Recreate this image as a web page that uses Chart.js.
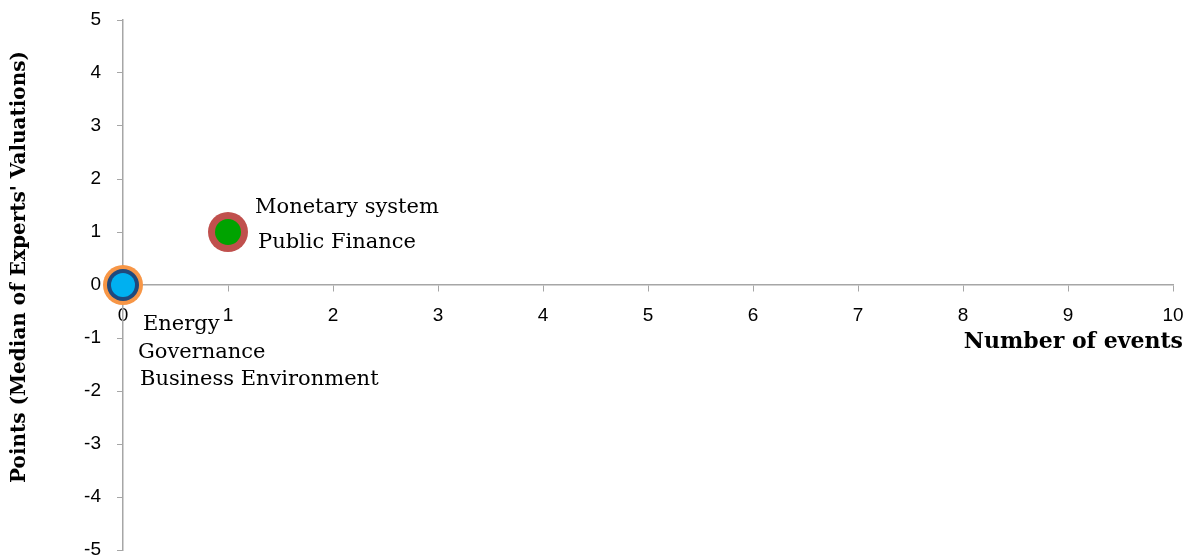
<!DOCTYPE html>
<html>
<head>
<meta charset="utf-8">
<script src="https://cdn.jsdelivr.net/npm/chart.js@4/dist/chart.umd.min.js"></script>
<style>
  html, body { margin: 0; padding: 0; background: #fff; overflow: hidden; }
  /* a bit bigger than the window: Chart.js keeps a margin the size of the
     largest marker, the extra pixels fall outside the photo */
  #wrap { width: 1193px; height: 570px; }
</style>
</head>
<body>
<div id="wrap"><canvas id="chart"></canvas></div>
<script>
// ================= DATA =================
const seriesNames = ["Energy", "Governance", "Business Environment", "Monetary system", "Public Finance"];
const eventCounts = [0, 0, 0, 1, 1];
const medianPoints = [0, 0, 0, 1, 1];
const xTickValues = [0, 1, 2, 3, 4, 5, 6, 7, 8, 9, 10];
const yTickValues = [-5, -4, -3, -2, -1, 0, 1, 2, 3, 4, 5];

const xTitle = "Number of events";
const yTitle = "Points (Median of Experts' Valuations)";

// ================= STYLE =================
const markerColors = ["#F79646", "#1F497D", "#00B0F0", "#C0504D", "#00A300"];
const markerSizes = [20, 16, 12, 20, 13];
// label offset from its marker, in pixels
const labelOffsets = [[20, 40], [15, 68], [17, 95], [27, -24], [30, 11]];
const axisGrey = "#A6A6A6";
const serif = "'DejaVu Serif', 'Liberation Serif', serif";
const sans = "'Liberation Sans', Arial, sans-serif";

// ================= LABELS PLUGIN =================
const labelPlugin = {
  id: "labels",
  afterDatasetsDraw(chart) {
    const ctx = chart.ctx;
    const xs = chart.scales.x;
    const ys = chart.scales.y;
    ctx.save();
    ctx.fillStyle = "#000";
    ctx.textBaseline = "middle";
    ctx.textAlign = "left";
    ctx.font = "21px " + serif;
    seriesNames.forEach((name, i) => {
      const px = xs.getPixelForValue(eventCounts[i]);
      const py = ys.getPixelForValue(medianPoints[i]);
      ctx.fillText(name, px + labelOffsets[i][0], py + labelOffsets[i][1]);
    });

    // axis titles
    ctx.font = "bold 22px " + serif;
    ctx.textAlign = "right";
    ctx.fillText(xTitle, xs.right + 10, ys.getPixelForValue(0) + 57);

    ctx.font = "bold 20px " + serif;
    ctx.translate(20, (chart.chartArea.top + chart.chartArea.bottom) / 2 - 18);
    ctx.rotate(-Math.PI / 2);
    ctx.textAlign = "center";
    ctx.fillText(yTitle, 0, 0);
    ctx.restore();
  },
};

// ================= CHART =================
// bigger markers go underneath the smaller ones
const datasets = seriesNames.map((name, i) => ({
  label: name,
  data: [{ x: eventCounts[i], y: medianPoints[i] }],
  backgroundColor: markerColors[i],
  borderWidth: 0,
  pointRadius: markerSizes[i],
  pointHoverRadius: markerSizes[i],
  order: markerSizes[i],
}));

new Chart(document.getElementById("chart"), {
  type: "scatter",
  data: { datasets },
  plugins: [labelPlugin],
  options: {
    responsive: true,
    maintainAspectRatio: false,
    animation: false,
    clip: false,
    layout: { padding: { top: 20, bottom: 9, right: 18, left: 0 } },
    plugins: { legend: { display: false }, tooltip: { enabled: false } },
    scales: {
      x: {
        type: "linear",
        position: { y: 0 },
        min: 0,
        max: 10,
        afterFit: (s) => { s.height = 0; s.paddingLeft = 0; s.paddingRight = 0; },
        afterBuildTicks: (s) => { s.ticks = xTickValues.map((v) => ({ value: v })); },
        grid: { drawOnChartArea: false, drawTicks: true, tickLength: 6, color: axisGrey },
        border: { color: axisGrey, width: 1.5 },
        ticks: { color: "#000", font: { family: sans, size: 19 }, padding: 13, maxRotation: 0 },
      },
      y: {
        type: "linear",
        position: "left",
        min: -5,
        max: 5,
        afterFit: (s) => { s.width = 123; s.paddingTop = 0; s.paddingBottom = 0; },
        afterBuildTicks: (s) => { s.ticks = yTickValues.map((v) => ({ value: v })); },
        grid: { drawOnChartArea: false, drawTicks: true, tickLength: 6, color: axisGrey },
        border: { color: axisGrey, width: 1.5 },
        ticks: { color: "#000", font: { family: sans, size: 19 }, padding: 16 },
      },
    },
  },
});
</script>
</body>
</html>
